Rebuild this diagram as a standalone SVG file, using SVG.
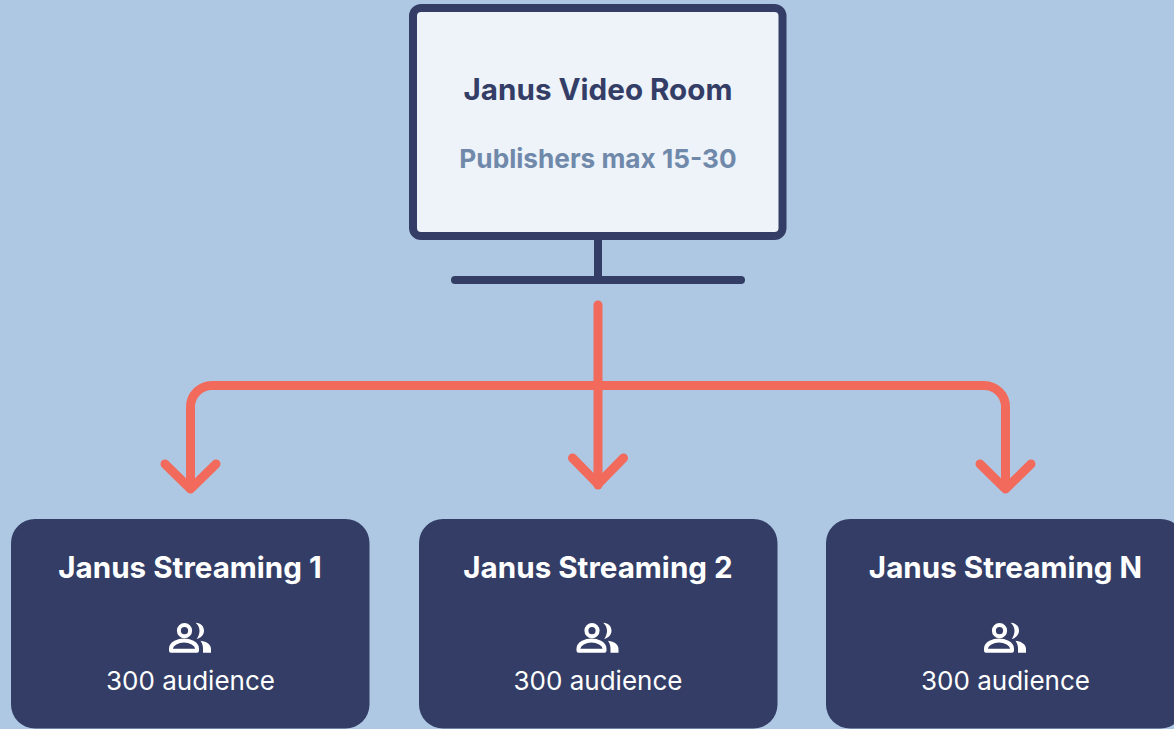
<svg xmlns="http://www.w3.org/2000/svg" width="1174" height="729" viewBox="0 0 1174 729">
<style>
text{font-family:Inter,"Liberation Sans",sans-serif;text-anchor:middle}
.t{font-size:29.600px;font-weight:700}
.w{fill:#fff}
.s{font-size:26px;font-weight:400}
.card{fill:#333D66}
.c{fill:none;stroke:#F26A5B;stroke-width:9;stroke-linecap:round;stroke-linejoin:round}
.i{fill:none;stroke:#fff;stroke-width:4}
</style>
<defs>
<g id="people">
<circle cx="-6" cy="-7.300" r="5.600" class="i"/>
<path d="M-19.500 12.700V10.500C-19.500 5.500-12 2.500-6.500 2.500C-1 2.500 6.500 5.500 6.500 10.500V12.700Z" class="i" stroke-linejoin="round"/>
<path d="M5.200-15.300C10.500-15.300 13.500-11.500 13.500-7.300C13.500-3.500 10.500 0 6.200 1C8.200-2 9-4.500 9-7.300C9-10.500 7.500-13.300 5.200-15.300Z" fill="#fff"/>
<path d="M10 2.800C16.500 3.500 20.500 7 20.500 11V14.700H12.500V10.500C12.500 7.500 11.500 5 10 2.800Z" fill="#fff"/>
</g>
</defs>
<rect width="1174" height="729" fill="#AEC8E3"/>
<g id="connectors">
<path class="c" d="M598 305V485"/>
<path class="c" d="M190.500 485V407A21.500 21.500 0 0 1 212 385.500H984A21.500 21.500 0 0 1 1005.500 407V485"/>
<path class="c" d="M165 464L190.500 489L216 464"/>
<path class="c" d="M572.500 458L598 484L623.500 458"/>
<path class="c" d="M980 464L1005.500 489L1031 464"/>
</g>
<g id="video-room">
<rect x="413" y="8" width="369.500" height="228" rx="8" fill="#EDF3F9" stroke="#333D66" stroke-width="8"/>
<rect x="594" y="238" width="8" height="40" fill="#333D66"/>
<rect x="451" y="276" width="294" height="8" rx="4" fill="#333D66"/>
<text class="t" x="598" y="99.500" fill="#333D66">Janus Video Room</text>
<text x="598" y="167.500" font-size="26.200" font-weight="700" fill="#7089AB">Publishers max 15-30</text>
</g>
<g id="streaming-1">
<rect class="card" x="11" y="519" width="358.500" height="209.500" rx="24"/>
<text class="t w" x="190" y="578">Janus Streaming 1</text>
<use href="#people" x="190.500" y="638"/>
<text class="s w" x="190.500" y="690">300 audience</text>
</g>
<g id="streaming-2">
<rect class="card" x="419" y="519" width="358.500" height="209.500" rx="24"/>
<text class="t w" x="598" y="578">Janus Streaming 2</text>
<use href="#people" x="598" y="638"/>
<text class="s w" x="598" y="690">300 audience</text>
</g>
<g id="streaming-n">
<rect class="card" x="826" y="519" width="358.500" height="209.500" rx="24"/>
<text class="t w" x="1005.500" y="578">Janus Streaming N</text>
<use href="#people" x="1005.500" y="638"/>
<text class="s w" x="1005.500" y="690">300 audience</text>
</g>
</svg>
